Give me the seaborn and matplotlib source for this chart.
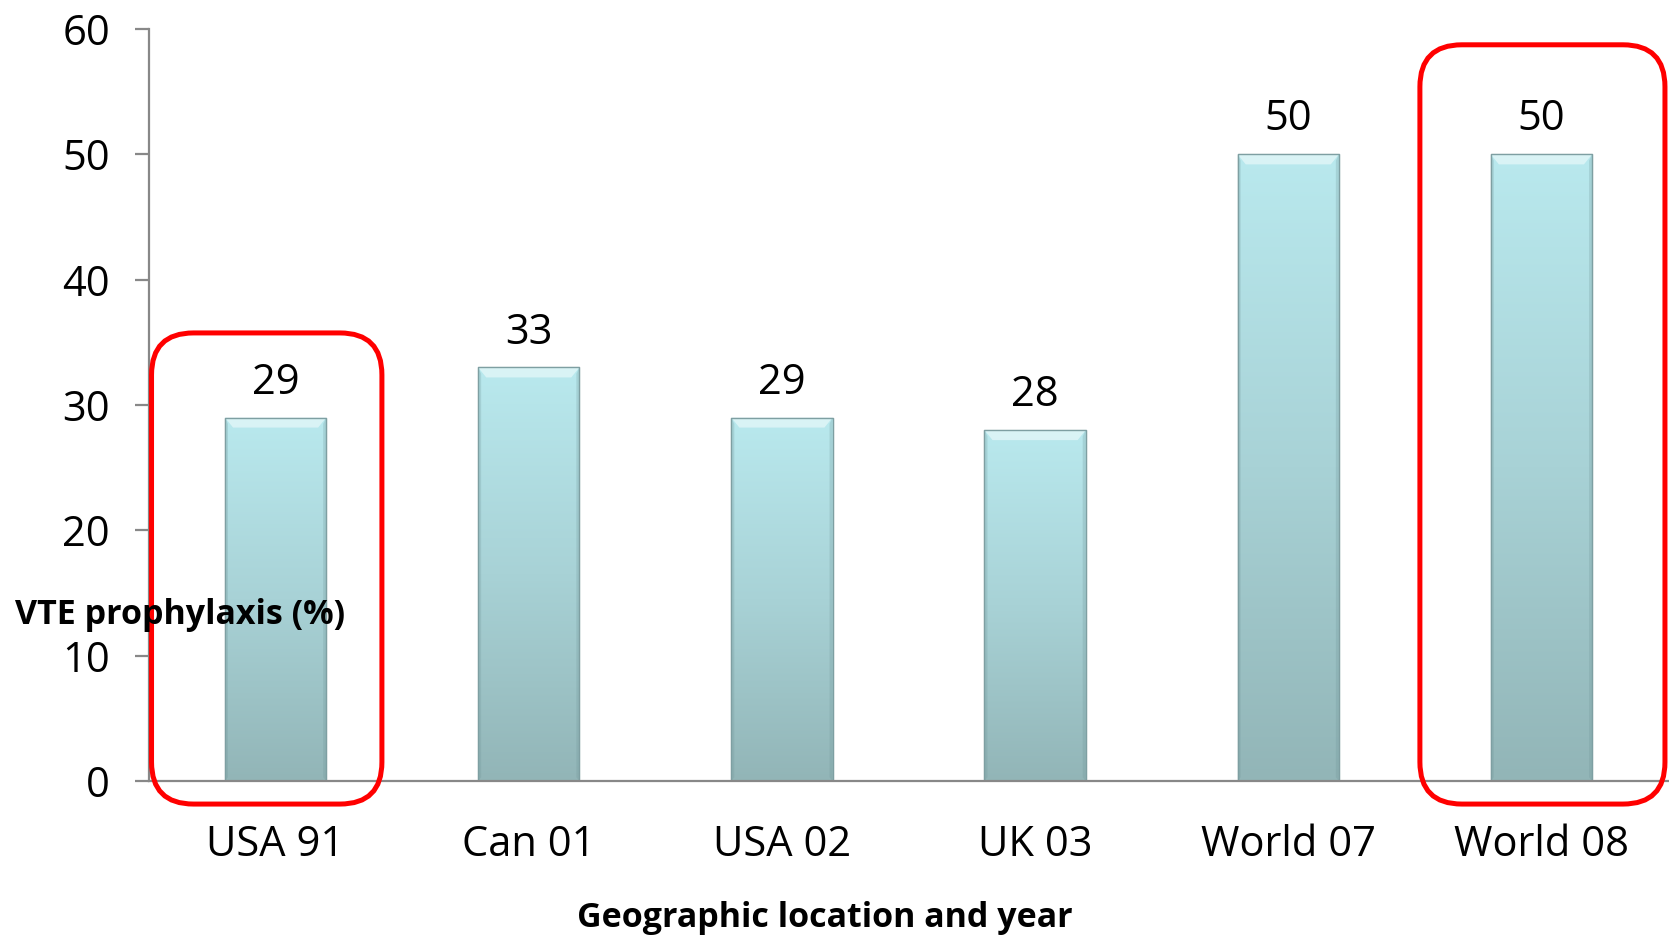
import numpy as np
import pandas as pd
import matplotlib
matplotlib.use("Agg")
import matplotlib.pyplot as plt
import seaborn as sns
from matplotlib.patches import FancyBboxPatch
from matplotlib.colors import LinearSegmentedColormap

categories = ["USA 91", "Can 01", "USA 02", "UK 03", "World 07", "World 08"]
values = [29, 33, 29, 28, 50, 50]
yticks = [0, 10, 20, 30, 40, 50, 60]
highlight = ["USA 91", "World 08"]
xlabel = "Geographic location and year"
ylabel = "VTE prophylaxis (%)"

sns.set_theme(style="white")
plt.rcParams["font.family"] = ["Open Sans", "DejaVu Sans"]

W, H = 1669, 936
fig = plt.figure(figsize=(W / 100, H / 100), dpi=100)
ax = fig.add_axes([149 / W, 1 - 781 / H, (1668 - 149) / W, (781 - 29) / H])

df = pd.DataFrame({"cat": categories, "val": values})
sns.barplot(data=df, x="cat", y="val", color="#b5e3e8", width=0.40,
            edgecolor="#7e9fa2", linewidth=0.8, ax=ax, zorder=2)

ax.set_xlim(-0.5, len(categories) - 0.5)
ax.set_ylim(0, 60)
ax.set_yticks(yticks)
ax.set_yticklabels([str(t) for t in yticks])

# gradient fill for bars
cmap = LinearSegmentedColormap.from_list("g", ["#92b5b7", "#a8d2d6", "#b9e9ee"])
grad = np.linspace(0, 1, 256).reshape(-1, 1)
for p in ax.patches:
    x0, y0 = p.get_x(), p.get_y()
    w, h = p.get_width(), p.get_height()
    im = ax.imshow(grad, cmap=cmap, origin="lower", aspect="auto",
                   extent=[x0, x0 + w, y0, y0 + h], zorder=2.1)
    im.set_clip_path(p)
    # top bevel highlight
    ax.fill([x0, x0 + w, x0 + w * 0.92, x0 + w * 0.08],
            [y0 + h, y0 + h, y0 + h - 0.8, y0 + h - 0.8],
            color="#e2f6f8", alpha=0.8, lw=0, zorder=2.2)
    # darker side bevels
    ax.fill([x0, x0 + w * 0.03, x0 + w * 0.03, x0],
            [y0, y0 + 0.3, y0 + h - 0.5, y0 + h],
            color="#6f9497", alpha=0.25, lw=0, zorder=2.2)
    ax.fill([x0 + w, x0 + w * 0.97, x0 + w * 0.97, x0 + w],
            [y0, y0 + 0.3, y0 + h - 0.5, y0 + h],
            color="#6f9497", alpha=0.25, lw=0, zorder=2.2)
    ax.plot([x0, x0 + w, x0 + w, x0, x0], [y0, y0, y0 + h, y0 + h, y0],
            color="#7e9fa2", lw=1.0, zorder=2.3)
    ax.annotate(f"{int(round(h))}", (x0 + w / 2, y0 + h), xytext=(0, 10),
                textcoords="offset points", ha="center", va="bottom",
                fontsize=30, color="black")

ax.set_xlim(-0.5, len(categories) - 0.5)
ax.set_ylim(0, 60)

# spines and ticks
for s in ["top", "right"]:
    ax.spines[s].set_visible(False)
for s in ["left", "bottom"]:
    ax.spines[s].set_color("#888888")
    ax.spines[s].set_linewidth(1.6)
    ax.spines[s].set_zorder(3)

ax.set_xticks(range(len(categories)))
ax.set_xticklabels(categories)
ax.set_xticks(np.arange(-0.5, len(categories), 1.0), minor=True)
ax.tick_params(axis="x", which="major", length=0, pad=31, labelsize=30, labelcolor="black")
ax.tick_params(axis="x", which="minor", length=10, width=1.6, color="#888888", direction="out")
ax.tick_params(axis="y", which="major", length=10, width=1.6, color="#888888",
               direction="out", left=True, pad=18, labelsize=30, labelcolor="black")
ax.set_xlabel("")
ax.set_ylabel("")
ax.grid(False)

# highlight rounded boxes (in data units, aspect-corrected)
fig.canvas.draw()
bb = ax.get_window_extent()
px_x = bb.width / (len(categories))
px_y = bb.height / 60.0
aspect = px_x / px_y
box_specs = {"USA 91": (-0.49, 0.42, -1.84, 35.75), "World 08": (-0.48, 0.488, -1.84, 58.74)}
for name in highlight:
    i = categories.index(name)
    dx0, dx1, y0, y1 = box_specs[name]
    r = 42 / px_x
    box = FancyBboxPatch((i + dx0, y0), dx1 - dx0, y1 - y0,
                         boxstyle=f"round,pad=0,rounding_size={r}",
                         mutation_aspect=aspect, fill=False, edgecolor="#ff0000",
                         linewidth=3.6, transform=ax.transData, clip_on=False, zorder=4)
    ax.add_patch(box)

fig.text(825 / W, 1 - 918 / H, xlabel, ha="center", va="center",
         fontsize=24.5, fontweight="bold", color="black")
fig.text(15 / W, 1 - 615 / H, ylabel, ha="left", va="center",
         fontsize=24.5, fontweight="bold", color="black", zorder=10)

fig.savefig("out.png", dpi=100, facecolor="white")
